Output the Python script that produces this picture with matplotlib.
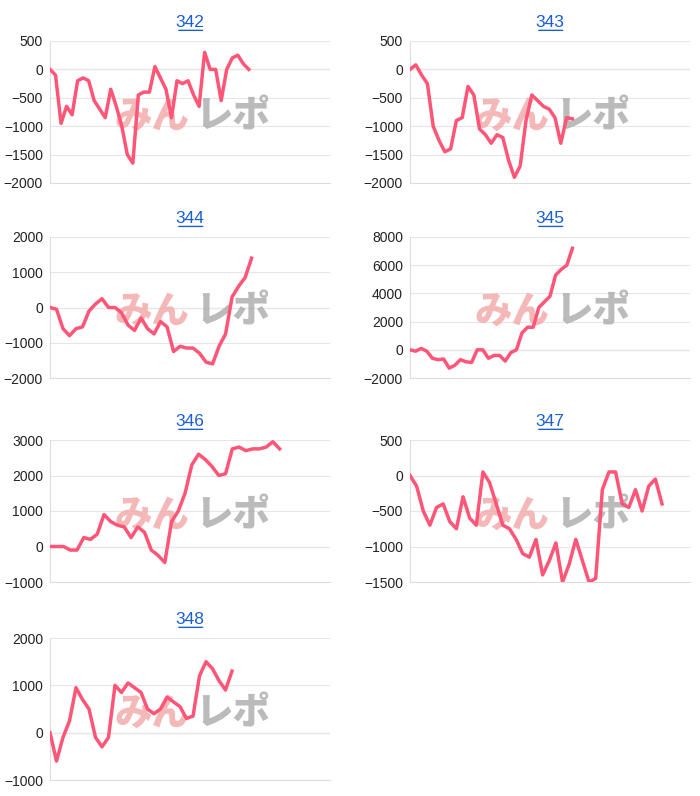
import matplotlib
matplotlib.use("Agg")
import matplotlib.pyplot as plt

plt.rcParams['font.family'] = ['Liberation Sans', 'Noto Sans CJK JP', 'DejaVu Sans']

titles = ["342", "343", "344", "345", "346", "347", "348"]
s342 = [0, -100, -950, -650, -800, -200, -150, -200, -550, -700, -850, -350, -650, -1000, -1500,
        -1650, -450, -400, -400, 50, -150, -350, -850, -200, -250, -200, -450, -650, 300, 0, 0,
        -550, 0, 200, 250, 100, 0]
s343 = [0, 80, -100, -250, -1000, -1250, -1450, -1400, -900, -850, -300, -450, -1050, -1150, -1300,
        -1150, -1200, -1600, -1900, -1700, -900, -450, -550, -650, -700, -850, -1300, -850, -870]
s344 = [0, -50, -600, -800, -600, -550, -100, 100, 250, 0, 0, -150, -500, -650, -300, -600, -750,
        -400, -550, -1250, -1100, -1150, -1150, -1300, -1550, -1600, -1100, -750, 300, 600, 850, 1400]
s345 = [0, -100, 100, -100, -600, -700, -650, -1300, -1100, -700, -850, -900, 0, 0, -600, -400,
        -400, -800, -200, 0, 1200, 1600, 1600, 3000, 3400, 3800, 5300, 5700, 6000, 7200]
s346 = [0, 0, 0, -100, -100, 250, 200, 350, 900, 700, 600, 550, 250, 550, 400, -100, -250, -450,
        700, 1000, 1500, 2300, 2600, 2450, 2250, 2000, 2050, 2750, 2800, 2700, 2750, 2750, 2800,
        2950, 2750]
s347 = [0, -150, -500, -700, -450, -400, -650, -750, -300, -600, -700, 50, -100, -400, -700, -750,
        -900, -1100, -1150, -900, -1400, -1200, -950, -1500, -1250, -900, -1200, -1500, -1450, -200,
        50, 50, -400, -450, -200, -500, -150, -50, -400]
s348 = [0, -600, -100, 250, 950, 700, 500, -100, -300, -100, 1000, 850, 1050, 950, 850, 500, 400,
        500, 750, 650, 550, 300, 350, 1200, 1500, 1350, 1100, 900, 1300]
series = [s342, s343, s344, s345, s346, s347, s348]
ylims = [(-2000, 500), (-2000, 500), (-2000, 2000), (-2000, 8000), (-1000, 3000), (-1500, 500), (-1000, 2000)]
yticks = [[-2000, -1500, -1000, -500, 0, 500], [-2000, -1500, -1000, -500, 0, 500],
          [-2000, -1000, 0, 1000, 2000], [-2000, 0, 2000, 4000, 6000, 8000],
          [-1000, 0, 1000, 2000, 3000], [-1500, -1000, -500, 0, 500], [-1000, 0, 1000, 2000]]
# fraction of axis width covered by each line
span = [0.71, 0.58, 0.72, 0.58, 0.82, 0.90, 0.65]

W, H = 700, 796
fig = plt.figure(figsize=(7, 7.96), dpi=100)
cols = [50, 410]
rows = [(41, 183), (237, 378), (440, 582), (638, 780)]
cjk = ["Noto Sans CJK JP"]
for i, (t, s) in enumerate(zip(titles, series)):
    x0 = cols[i % 2]
    top, bot = rows[i // 2]
    ax = fig.add_axes([x0 / W, 1 - bot / H, 280 / W, (bot - top) / H])
    ax.plot(range(len(s)), s, color="#ff5577", lw=2.5, zorder=3)
    ax.set_xlim(0, (len(s) - 1) / span[i])
    ax.set_ylim(*ylims[i])
    ax.set_yticks(yticks[i])
    ax.set_xticks([])
    ax.grid(axis="y", color="#e6e6e6", lw=0.8)
    ax.axhline(0, color="#bbbbbb", lw=0.8, zorder=1)
    for k in ["top", "right"]:
        ax.spines[k].set_visible(False)
    ax.spines["left"].set_color("#dddddd")
    ax.spines["bottom"].set_color("#dddddd")
    ax.tick_params(axis="y", length=0, labelsize=10, colors="#222222", pad=5)
    ax.set_title(t, color="#1a5fd0", fontsize=12.5, pad=10)
    ax.text(0.50, 0.47, "みん", transform=ax.transAxes, fontsize=27, color="#f2a7a7", family=cjk,
            fontweight="heavy", ha="right", va="center", alpha=0.8, zorder=2)
    ax.text(0.52, 0.47, "レポ", transform=ax.transAxes, fontsize=27, color="#aaaaaa", family=cjk,
            fontweight="heavy", ha="left", va="center", alpha=0.8, zorder=2)
    # underline for link-like title
    ax.annotate("", xy=(0.45, 1.075), xytext=(0.555, 1.075), xycoords="axes fraction",
                arrowprops=dict(arrowstyle="-", color="#1a5fd0", lw=1))

fig.savefig("out.png", dpi=100)
